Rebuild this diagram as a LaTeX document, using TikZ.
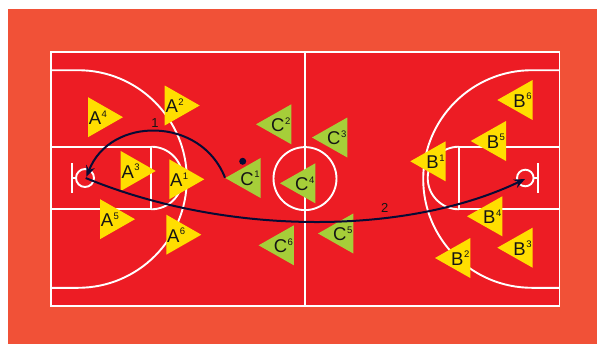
\documentclass[tikz,border=0pt]{standalone}
\usepackage{fontspec}
\setmainfont{Liberation Sans}
\usetikzlibrary{arrows.meta}
\definecolor{surround}{HTML}{F15137}
\definecolor{courtred}{HTML}{ED1C24}
\definecolor{teamyellow}{HTML}{FFDE00}
\definecolor{teamgreen}{HTML}{A6CE39}
\definecolor{navyline}{HTML}{070B35}
\definecolor{labelink}{HTML}{151515}
\tikzset{
  courtline/.style={draw=white,line width=1.9bp},
  passline/.style={draw=navyline,line width=2bp,-{Stealth[length=11bp,width=9bp]}},
  playerlabel/.style={inner sep=0pt,outer sep=0pt,text=labelink,font=\fontsize{18.5bp}{19bp}\selectfont},
  passlabel/.style={inner sep=0pt,outer sep=0pt,text=labelink,font=\fontsize{13bp}{14bp}\selectfont}
}
% right-pointing player: base x, centre y, colour, letter, digit
\newcommand{\plyR}[6]{%
  \fill[#4] (#2,#3-20) -- (#2+35,#3) -- (#2,#3+20) -- cycle;
  \node[playerlabel,anchor=base west] (#1) at (#2+0.8,#3+7.3) {#5\plshift{#6}};
}
% left-pointing player: apex x, centre y, colour, letter, digit
\newcommand{\plyL}[6]{%
  \fill[#4] (#2+35.3,#3-20) -- (#2,#3) -- (#2+35.3,#3+20) -- cycle;
  \node[playerlabel,anchor=base east] (#1) at (#2+34.3,#3+7.3) {#5\plshift{#6}};
}
\newcommand{\plshift}[1]{\raisebox{7.4bp}{\fontsize{9.5bp}{9.5bp}\selectfont\kern0.5bp #1}}
\begin{document}
\begin{tikzpicture}[x=1bp,y=-1bp]
\useasboundingbox (0,0) rectangle (597,344);
\fill[surround] (8,9) rectangle (597,344);
\fill[courtred] (51,52.3) rectangle (560,306.3);
% court markings
\draw[courtline] (51,52.3) rectangle (559.5,306.3);
\draw[courtline] (305,52.3) -- (305,306.3);
\draw[courtline] (305,178.6) circle[radius=31.5bp];
\draw[courtline] (51,70.2) -- (78,70.2) arc[start angle=90,end angle=-90,radius=108.8bp] -- (51,287.8);
\draw[courtline] (559.5,70.2) -- (532,70.2) arc[start angle=90,end angle=270,radius=108.8bp] -- (559.5,287.8);
\draw[courtline] (51,146.7) rectangle (151.3,209.3);
\draw[courtline] (151.3,146.7) arc[start angle=90,end angle=-90,radius=31.3bp];
\draw[courtline] (559.5,146.7) -- (459,146.7) -- (459,209.3) -- (559.5,209.3);
\draw[courtline] (459,146.7) arc[start angle=90,end angle=270,radius=31.3bp];
% hoops
\draw[courtline] (72,163) -- (72,193);
\draw[courtline] (72,178) -- (76,178);
\draw[courtline] (85,178) circle[radius=9bp];
\draw[courtline] (538,163) -- (538,193);
\draw[courtline] (533.5,178) -- (538,178);
\draw[courtline] (525.3,178) circle[radius=8.3bp];
% team A
\plyR{A4}{88}{117.2}{teamyellow}{A}{4}
\plyR{A2}{164.7}{105.5}{teamyellow}{A}{2}
\plyR{A3}{120.7}{171}{teamyellow}{A}{3}
\plyR{A1}{169.3}{179.3}{teamyellow}{A}{1}
\plyR{A5}{100}{219.2}{teamyellow}{A}{5}
\plyR{A6}{166.3}{234.7}{teamyellow}{A}{6}
% team C
\plyL{C1}{225.3}{178}{teamgreen}{C}{1}
\plyL{C2}{256}{124.3}{teamgreen}{C}{2}
\plyL{C3}{312}{137.5}{teamgreen}{C}{3}
\plyL{C4}{280}{183.3}{teamgreen}{C}{4}
\plyL{C5}{318}{233.5}{teamgreen}{C}{5}
\plyL{C6}{258.6}{245.3}{teamgreen}{C}{6}
% team B
\plyL{B1}{410.3}{161.3}{teamyellow}{B}{1}
\plyL{B2}{435}{258}{teamyellow}{B}{2}
\plyL{B3}{497.3}{247.7}{teamyellow}{B}{3}
\plyL{B4}{467}{216.3}{teamyellow}{B}{4}
\plyL{B5}{470.7}{141}{teamyellow}{B}{5}
\plyL{B6}{497.3}{100}{teamyellow}{B}{6}
% ball and passes
\fill[navyline] (242.7,161.3) circle[radius=3.5bp];
\coordinate (passstart) at (225,177.7);
\coordinate (hoopleft) at (86.5,176.8);
\coordinate (hoopleftb) at (85.7,178);
\coordinate (hoopright) at (525,179);
\draw[passline] (passstart) .. controls (201,116) and (110,116) .. (hoopleft);
\draw[passline] (hoopleftb) .. controls (226,236) and (406,236) .. (hoopright);
\node[passlabel,anchor=base] (one) at (155,127.3) {1};
\node[passlabel,anchor=base] (two) at (384.7,212) {2};
\end{tikzpicture}
\end{document}
